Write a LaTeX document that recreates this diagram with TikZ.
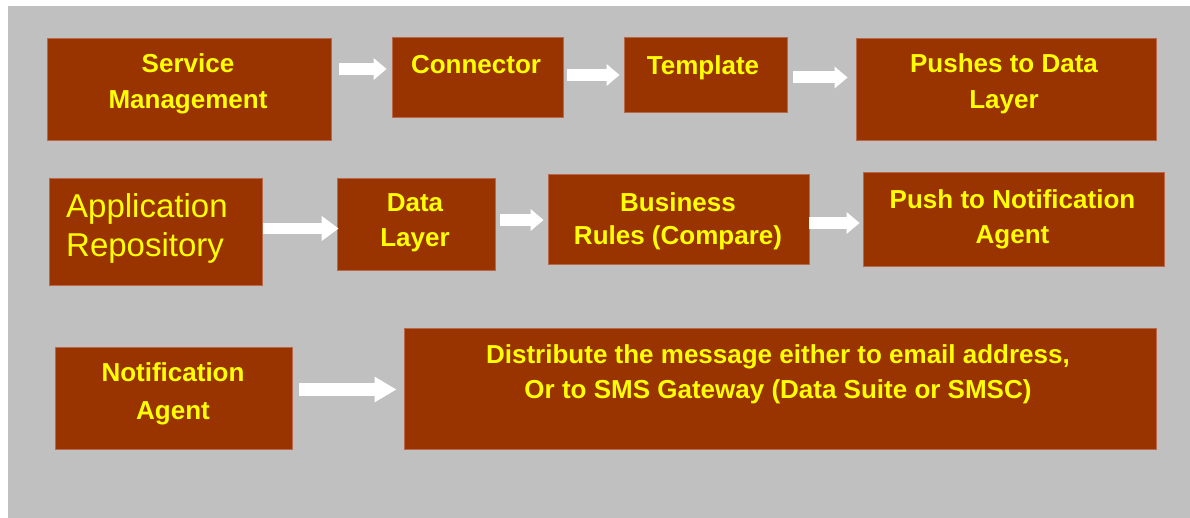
\documentclass[tikz,border=0pt]{standalone}
\usepackage{fontspec}
\setmainfont{Liberation Sans}
\usetikzlibrary{arrows.meta,calc}
\definecolor{panelgray}{RGB}{192,192,192}
\definecolor{boxbrown}{RGB}{153,51,0}
\definecolor{boxedge}{RGB}{186,104,74}
\definecolor{signyellow}{RGB}{255,255,0}

\begin{document}
\begin{tikzpicture}[x=1pt,y=1pt,yscale=-1,xscale=1,
	block/.style={draw=boxedge,line width=0.8pt,fill=boxbrown,inner sep=0pt},
	boxtext/.style={anchor=north,inner sep=0pt,align=center,text=signyellow,font=\bfseries\fontsize{26}{#1}\selectfont},
	boxtext/.default=35,
	flow/.style={draw=white,line width=12pt,-{Triangle[length=13pt,width=21pt]}}
	]
	\useasboundingbox (0,0) rectangle (1190,518);
	%Shape: Background
	\fill[white] (0,0) rectangle (1190,518);
	\fill[panelgray] (8,6) rectangle (1190,518);
	
	%Shape: Rectangle row 1
	\node[block,minimum width=284pt,minimum height=102pt] (svc) at (189,89) {};
	\node[block,minimum width=171pt,minimum height=80pt] (conn) at (477.5,77) {};
	\node[block,minimum width=163pt,minimum height=75pt] (tmpl) at (705.5,74.5) {};
	\node[block,minimum width=300pt,minimum height=102pt] (pdl) at (1006,89) {};
	%Shape: Rectangle row 2
	\node[block,minimum width=213pt,minimum height=107pt] (app) at (155.5,231.5) {};
	\node[block,minimum width=158pt,minimum height=92pt] (dl) at (416,224) {};
	\node[block,minimum width=261pt,minimum height=90pt] (biz) at (678.5,219) {};
	\node[block,minimum width=301pt,minimum height=94pt] (pna) at (1013.5,219) {};
	%Shape: Rectangle row 3
	\node[block,minimum width=237pt,minimum height=102pt] (na) at (173.5,398) {};
	\node[block,minimum width=752pt,minimum height=121pt] (dist) at (780,388.5) {};
	
	% Text Node
	\node[boxtext=36] (svc-t) at (188,53.4) {Service\\Management};
	% Text Node
	\node[boxtext] (conn-t) at (476,55.4) {Connector};
	% Text Node
	\node[boxtext] (tmpl-t) at (703,55.4) {Template};
	% Text Node
	\node[boxtext=36] (pdl-t) at (1004,53.4) {Pushes to Data\\Layer};
	% Text Node
	\node[anchor=north west,inner sep=0pt,align=left,text=signyellow,font=\fontsize{33}{39}\selectfont] (app-t) at (66,193.4) {Application\\Repository};
	% Text Node
	\node[boxtext] (dl-t) at (415,193.4) {Data\\Layer};
	% Text Node
	\node[boxtext=33] (biz-t) at (678,192.4) {Business\\Rules (Compare)};
	% Text Node
	\node[boxtext] (pna-t) at (1012.5,189.4) {Push to Notification\\Agent};
	% Text Node
	\node[boxtext=38] (na-t) at (173,362.4) {Notification\\Agent};
	% Text Node
	\node[boxtext] (dist-t) at (778,344.4) {Distribute the message either to email address,\\Or to SMS Gateway (Data Suite or SMSC)};
	
	%Block Arrows
	\draw[flow] ($(svc.east)+(8,-20)$) -- ($(conn.west)+(-5,-8)$);
	\draw[flow] ($(conn.east)+(4,-2)$) -- ($(tmpl.west)+(-4,0.5)$);
	\draw[flow] ($(tmpl.east)+(6,3)$) -- ($(pdl.west)+(-8,-11.5)$);
	\draw[flow,line width=11pt,-{Triangle[length=17pt,width=24pt]}] ($(app.east)+(1,-3)$) -- ($(dl.west)+(2,4.5)$);
	\draw[flow] ($(dl.east)+(5,-4)$) -- ($(biz.west)+(-4,1)$);
	\draw[flow] ($(biz.east)+(0,4)$) -- ($(pna.west)+(-3,4)$);
	\draw[flow,line width=13pt,-{Triangle[length=22pt,width=24pt]}] ($(na.east)+(7,-8.5)$) -- ($(dist.west)+(-7,1)$);
\end{tikzpicture}
\end{document}
